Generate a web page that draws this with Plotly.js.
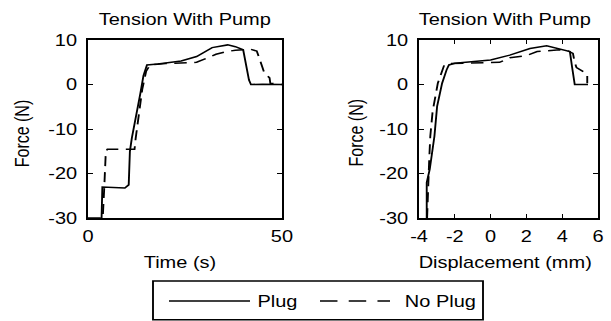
<!DOCTYPE html>
<html><head><meta charset="utf-8">
<script src="https://cdn.plot.ly/plotly-3.0.1.min.js"></script>
<style>
html,body{margin:0;padding:0;background:#fff;overflow:hidden;width:611px;height:321px}
#chart{width:489px;height:321px;transform:scaleX(1.2495);transform-origin:0 0}
</style>
</head><body><div id="chart"></div><script>
// Left panel: force vs time
const plugTime   = [0, 3.5, 3.7, 9.5, 10.5, 10.8, 11.3, 12.5, 13.5, 14.3, 15.2, 18, 21, 24, 28, 32, 36, 38, 40, 41.5, 42, 45, 50];
const plugForceT = [-30, -30, -23, -23.2, -22.5, -15, -12, -7, -2, 2, 4.4, 4.6, 5.0, 5.3, 6.3, 8.3, 8.9, 8.5, 7.8, 1, 0, 0.1, 0];
const noPlugTime   = [0, 3.8, 4.2, 4.4, 4.6, 5, 12, 12.3, 13, 14, 15, 16, 20, 24, 28, 30.6, 33, 35.7, 38, 42, 43.5, 44, 45, 45.5, 46.8, 47, 50];
const noPlugForceT = [-30, -30, -23, -18, -15, -14.5, -14.5, -12, -7, -1, 3, 4.4, 4.7, 4.9, 5.0, 5.9, 6.8, 7.4, 7.7, 7.9, 7.5, 6.3, 3.3, 2.5, 1.5, 0.3, 0];
// Right panel: force vs displacement
const plugDisp   = [-3.57, -3.57, -3.4, -3.24, -3.14, -2.99, -2.71, -2.46, -2.33, -2.0, -1.0, 0.0, 1.07, 2.2, 3.13, 3.69, 4.43, 4.55, 4.7, 5.44];
const plugForceD = [-30, -22, -19, -15, -11.6, -4.9, 0.3, 3.3, 4.4, 4.8, 5.1, 5.5, 6.6, 8.1, 8.7, 8.1, 7.4, 4, 0, 0];
const noPlugDisp   = [-3.55, -3.5, -3.43, -3.37, -3.24, -2.95, -2.59, -2.2, -1.2, 0.5, 1.07, 2.0, 2.6, 3.86, 4.3, 4.6, 4.7, 4.8, 5.4, 5.4];
const noPlugForceD = [-30, -22, -16.8, -11.6, -6, 0.3, 4.4, 4.7, 4.8, 5.0, 6.0, 6.5, 7.4, 7.8, 7.6, 7.0, 5, 3.8, 2.4, 0.3];

const titleText = 'Tension With Pump';
const seriesNames = ['Plug', 'No Plug'];
const leftTicks = [0, 50];
const leftTickText = ['0', '50'];
const rightTicks = [-4, -2, 0, 2, 4, 6];
const rightTickText = ['-4', '-2', '0', '2', '4', '6'];
const yTicks = [-30, -20, -10, 0, 10];
const yTickText = ['-30', '-20', '-10', '0', '10'];

const FONT = {family: 'Liberation Sans, Arial, sans-serif', size: 16, color: '#000'};
const solid = {color: '#000', width: 1.5, dash: 'solid'};
const dashed = {color: '#000', width: 1.5, dash: '10px,6px'};

const traces = [
  {x: plugTime, y: plugForceT, mode: 'lines', line: solid, name: seriesNames[0], xaxis: 'x', yaxis: 'y'},
  {x: noPlugTime, y: noPlugForceT, mode: 'lines', line: dashed, name: seriesNames[1], xaxis: 'x', yaxis: 'y'},
  {x: plugDisp, y: plugForceD, mode: 'lines', line: solid, name: seriesNames[0], xaxis: 'x2', yaxis: 'y2'},
  {x: noPlugDisp, y: noPlugForceD, mode: 'lines', line: dashed, name: seriesNames[1], xaxis: 'x2', yaxis: 'y2'}
];

const axBase = {showline: true, linecolor: '#000', linewidth: 1.5, mirror: 'ticks', ticks: 'inside',
  ticklen: 4, tickwidth: 1, tickcolor: '#000', showgrid: false, zeroline: false, tickfont: FONT, fixedrange: true};

const layout = {
  width: 489, height: 321, margin: {l: 0, r: 0, t: 0, b: 0},
  paper_bgcolor: '#fff', plot_bgcolor: '#fff', showlegend: false, font: FONT,
  xaxis: Object.assign({}, axBase, {domain: [0.144, 0.4615], range: [0, 50], tickvals: leftTicks, ticktext: leftTickText, anchor: 'y', ticklabelstandoff: 3}),
  yaxis: Object.assign({}, axBase, {domain: [0.32, 0.8754], range: [-30, 10], tickvals: yTicks, ticktext: yTickText, anchor: 'x', ticklabelstandoff: 4}),
  xaxis2: Object.assign({}, axBase, {domain: [0.6858, 0.9787], range: [-4, 6], tickvals: rightTicks, ticktext: rightTickText, anchor: 'y2', ticklabelstandoff: 3}),
  yaxis2: Object.assign({}, axBase, {domain: [0.32, 0.8754], range: [-30, 10], tickvals: yTicks, ticktext: yTickText, anchor: 'x2', ticklabelstandoff: 4}),
  annotations: [
    {text: titleText, xref: 'paper', yref: 'paper', x: 0.3028, y: 0.938, xanchor: 'center', yanchor: 'middle', showarrow: false, font: FONT},
    {text: titleText, xref: 'paper', yref: 'paper', x: 0.826, y: 0.938, xanchor: 'center', yanchor: 'middle', showarrow: false, font: FONT},
    {text: 'Force (N)', xref: 'paper', yref: 'paper', x: 0.0376, y: 0.586, xanchor: 'center', yanchor: 'middle', textangle: -90, showarrow: false, font: FONT},
    {text: 'Force (N)', xref: 'paper', yref: 'paper', x: 0.584, y: 0.586, xanchor: 'center', yanchor: 'middle', textangle: -90, showarrow: false, font: FONT},
    {text: 'Time (s)', xref: 'paper', yref: 'paper', x: 0.2946, y: 0.182, xanchor: 'center', yanchor: 'middle', showarrow: false, font: FONT},
    {text: 'Displacement (mm)', xref: 'paper', yref: 'paper', x: 0.8265, y: 0.182, xanchor: 'center', yanchor: 'middle', showarrow: false, font: FONT},
    {text: seriesNames[0], xref: 'paper', yref: 'paper', x: 0.4173, y: 0.0623, xanchor: 'left', yanchor: 'middle', showarrow: false, font: FONT},
    {text: seriesNames[1], xref: 'paper', yref: 'paper', x: 0.658, y: 0.0623, xanchor: 'left', yanchor: 'middle', showarrow: false, font: FONT}
  ],
  shapes: [
    {type: 'rect', xref: 'paper', yref: 'paper', x0: 0.2504, x1: 0.7905, y0: 0.004, y1: 0.1246, line: {color: '#000', width: 1.5}, fillcolor: 'rgba(0,0,0,0)'},
    {type: 'line', xref: 'paper', yref: 'paper', x0: 0.2766, x1: 0.4092, y0: 0.0623, y1: 0.0623, line: {color: '#000', width: 1.5}},
    {type: 'line', xref: 'paper', yref: 'paper', x0: 0.5237, x1: 0.6383, y0: 0.0623, y1: 0.0623, line: {color: '#000', width: 1.5, dash: '14px,9px'}}
  ]
};

Plotly.newPlot('chart', traces, layout, {displayModeBar: false, staticPlot: true});
</script></body></html>
